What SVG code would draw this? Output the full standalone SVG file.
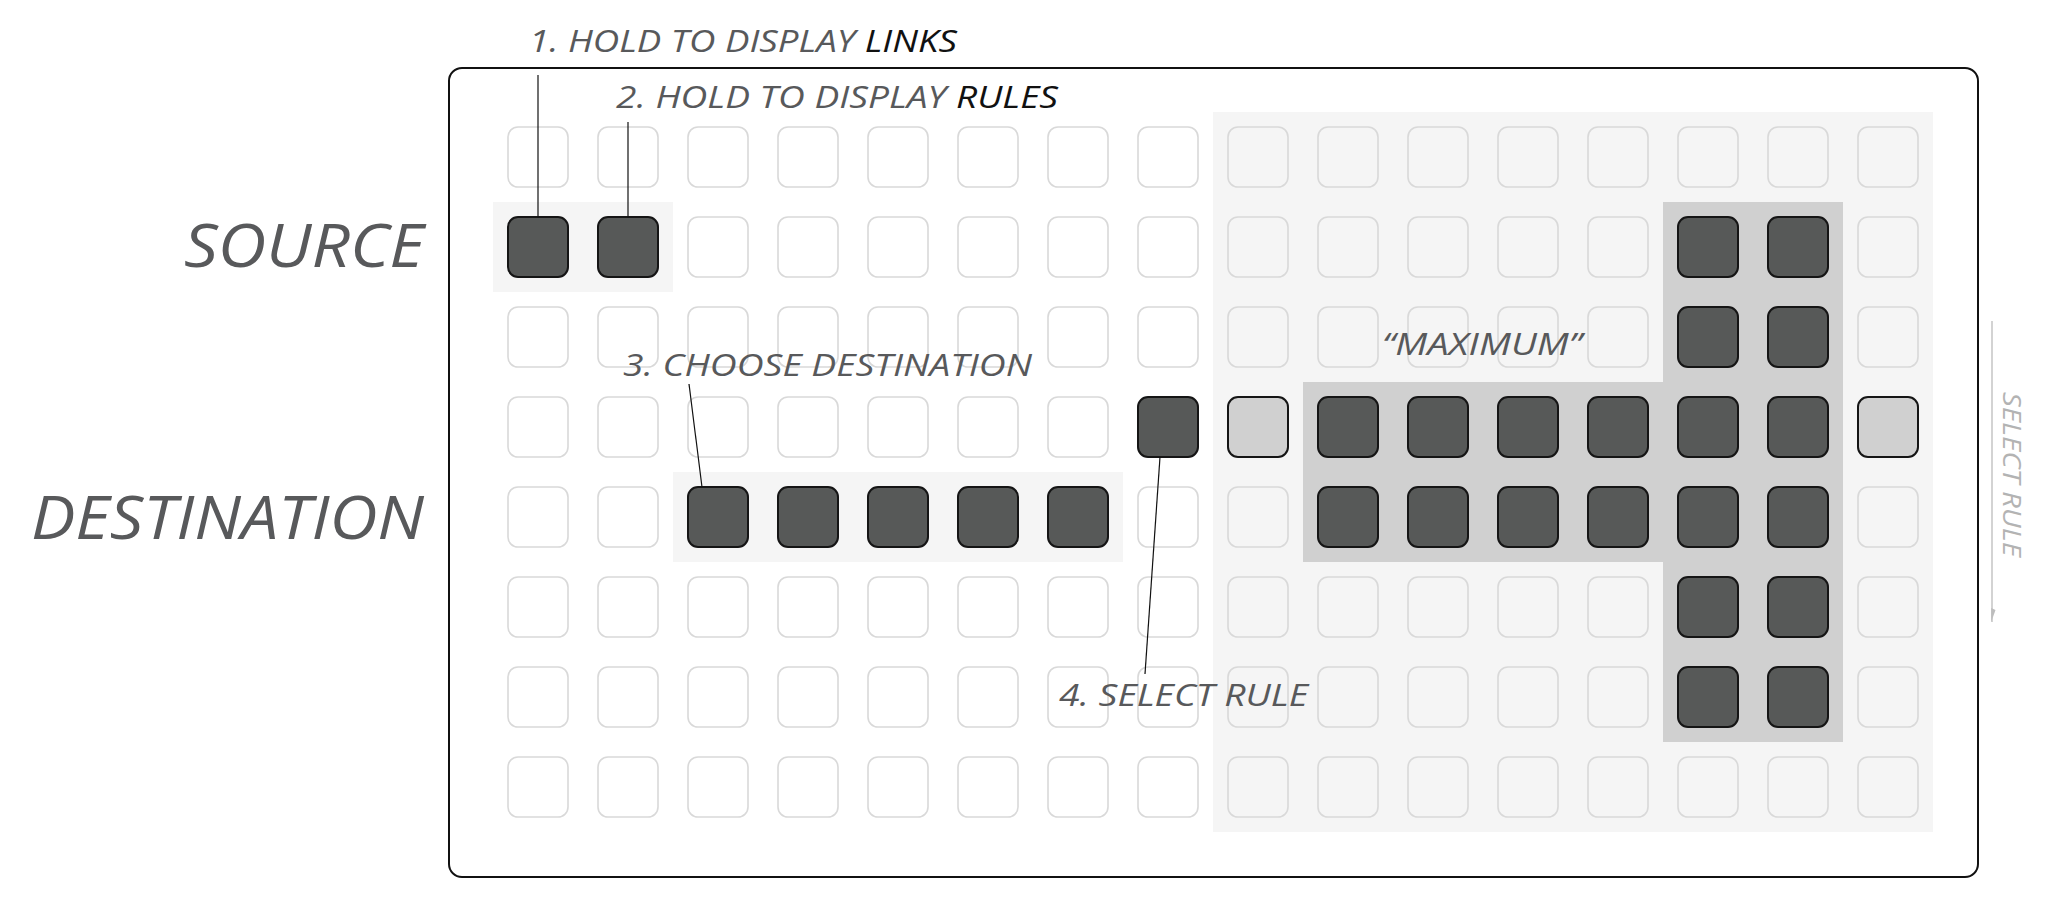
<svg xmlns="http://www.w3.org/2000/svg" xmlns:xlink="http://www.w3.org/1999/xlink" width="2051" height="900" viewBox="0 0 2051 900">
<style>
.e{fill:none;stroke:#d9d9d9;stroke-width:1.6}
.d{fill:#575958;stroke:#151515;stroke-width:2}
.l{fill:#d0d0d0;stroke:#151515;stroke-width:2}
.t{font-family:"Open Sans","Liberation Sans",sans-serif;font-style:italic;font-weight:400;fill:#58595b}
.k{fill:#111}
.c{stroke:#111;stroke-width:1.2;fill:none}
</style>
<defs>
<rect id="b" width="60" height="60" rx="10"/>
</defs>
<rect width="2051" height="900" fill="#fff"/>
<g id="board">
<rect x="449" y="68" width="1529" height="809" rx="13" fill="#fff" stroke="#111" stroke-width="2"/>
<rect id="area-rules" x="1213" y="112" width="720" height="720" fill="#f5f5f5"/>
<rect id="area-source" x="493" y="202" width="180" height="90" fill="#f5f5f5"/>
<rect id="area-destination" x="673" y="472" width="450" height="90" fill="#f5f5f5"/>
<polygon id="area-maximum" points="1663,202 1843,202 1843,742 1663,742 1663,562 1303,562 1303,382 1663,382" fill="#d0d0d0"/>
</g>
<g id="grid">
<g id="row0">
<use href="#b" class="e" x="508" y="127"/><use href="#b" class="e" x="598" y="127"/><use href="#b" class="e" x="688" y="127"/><use href="#b" class="e" x="778" y="127"/><use href="#b" class="e" x="868" y="127"/><use href="#b" class="e" x="958" y="127"/><use href="#b" class="e" x="1048" y="127"/><use href="#b" class="e" x="1138" y="127"/><use href="#b" class="e" x="1228" y="127"/><use href="#b" class="e" x="1318" y="127"/><use href="#b" class="e" x="1408" y="127"/><use href="#b" class="e" x="1498" y="127"/><use href="#b" class="e" x="1588" y="127"/><use href="#b" class="e" x="1678" y="127"/><use href="#b" class="e" x="1768" y="127"/><use href="#b" class="e" x="1858" y="127"/>
</g>
<g id="row1">
<use href="#b" class="d" x="508" y="217"/><use href="#b" class="d" x="598" y="217"/><use href="#b" class="e" x="688" y="217"/><use href="#b" class="e" x="778" y="217"/><use href="#b" class="e" x="868" y="217"/><use href="#b" class="e" x="958" y="217"/><use href="#b" class="e" x="1048" y="217"/><use href="#b" class="e" x="1138" y="217"/><use href="#b" class="e" x="1228" y="217"/><use href="#b" class="e" x="1318" y="217"/><use href="#b" class="e" x="1408" y="217"/><use href="#b" class="e" x="1498" y="217"/><use href="#b" class="e" x="1588" y="217"/><use href="#b" class="d" x="1678" y="217"/><use href="#b" class="d" x="1768" y="217"/><use href="#b" class="e" x="1858" y="217"/>
</g>
<g id="row2">
<use href="#b" class="e" x="508" y="307"/><use href="#b" class="e" x="598" y="307"/><use href="#b" class="e" x="688" y="307"/><use href="#b" class="e" x="778" y="307"/><use href="#b" class="e" x="868" y="307"/><use href="#b" class="e" x="958" y="307"/><use href="#b" class="e" x="1048" y="307"/><use href="#b" class="e" x="1138" y="307"/><use href="#b" class="e" x="1228" y="307"/><use href="#b" class="e" x="1318" y="307"/><use href="#b" class="e" x="1408" y="307"/><use href="#b" class="e" x="1498" y="307"/><use href="#b" class="e" x="1588" y="307"/><use href="#b" class="d" x="1678" y="307"/><use href="#b" class="d" x="1768" y="307"/><use href="#b" class="e" x="1858" y="307"/>
</g>
<g id="row3">
<use href="#b" class="e" x="508" y="397"/><use href="#b" class="e" x="598" y="397"/><use href="#b" class="e" x="688" y="397"/><use href="#b" class="e" x="778" y="397"/><use href="#b" class="e" x="868" y="397"/><use href="#b" class="e" x="958" y="397"/><use href="#b" class="e" x="1048" y="397"/><use href="#b" class="d" x="1138" y="397"/><use href="#b" class="l" x="1228" y="397"/><use href="#b" class="d" x="1318" y="397"/><use href="#b" class="d" x="1408" y="397"/><use href="#b" class="d" x="1498" y="397"/><use href="#b" class="d" x="1588" y="397"/><use href="#b" class="d" x="1678" y="397"/><use href="#b" class="d" x="1768" y="397"/><use href="#b" class="l" x="1858" y="397"/>
</g>
<g id="row4">
<use href="#b" class="e" x="508" y="487"/><use href="#b" class="e" x="598" y="487"/><use href="#b" class="d" x="688" y="487"/><use href="#b" class="d" x="778" y="487"/><use href="#b" class="d" x="868" y="487"/><use href="#b" class="d" x="958" y="487"/><use href="#b" class="d" x="1048" y="487"/><use href="#b" class="e" x="1138" y="487"/><use href="#b" class="e" x="1228" y="487"/><use href="#b" class="d" x="1318" y="487"/><use href="#b" class="d" x="1408" y="487"/><use href="#b" class="d" x="1498" y="487"/><use href="#b" class="d" x="1588" y="487"/><use href="#b" class="d" x="1678" y="487"/><use href="#b" class="d" x="1768" y="487"/><use href="#b" class="e" x="1858" y="487"/>
</g>
<g id="row5">
<use href="#b" class="e" x="508" y="577"/><use href="#b" class="e" x="598" y="577"/><use href="#b" class="e" x="688" y="577"/><use href="#b" class="e" x="778" y="577"/><use href="#b" class="e" x="868" y="577"/><use href="#b" class="e" x="958" y="577"/><use href="#b" class="e" x="1048" y="577"/><use href="#b" class="e" x="1138" y="577"/><use href="#b" class="e" x="1228" y="577"/><use href="#b" class="e" x="1318" y="577"/><use href="#b" class="e" x="1408" y="577"/><use href="#b" class="e" x="1498" y="577"/><use href="#b" class="e" x="1588" y="577"/><use href="#b" class="d" x="1678" y="577"/><use href="#b" class="d" x="1768" y="577"/><use href="#b" class="e" x="1858" y="577"/>
</g>
<g id="row6">
<use href="#b" class="e" x="508" y="667"/><use href="#b" class="e" x="598" y="667"/><use href="#b" class="e" x="688" y="667"/><use href="#b" class="e" x="778" y="667"/><use href="#b" class="e" x="868" y="667"/><use href="#b" class="e" x="958" y="667"/><use href="#b" class="e" x="1048" y="667"/><use href="#b" class="e" x="1138" y="667"/><use href="#b" class="e" x="1228" y="667"/><use href="#b" class="e" x="1318" y="667"/><use href="#b" class="e" x="1408" y="667"/><use href="#b" class="e" x="1498" y="667"/><use href="#b" class="e" x="1588" y="667"/><use href="#b" class="d" x="1678" y="667"/><use href="#b" class="d" x="1768" y="667"/><use href="#b" class="e" x="1858" y="667"/>
</g>
<g id="row7">
<use href="#b" class="e" x="508" y="757"/><use href="#b" class="e" x="598" y="757"/><use href="#b" class="e" x="688" y="757"/><use href="#b" class="e" x="778" y="757"/><use href="#b" class="e" x="868" y="757"/><use href="#b" class="e" x="958" y="757"/><use href="#b" class="e" x="1048" y="757"/><use href="#b" class="e" x="1138" y="757"/><use href="#b" class="e" x="1228" y="757"/><use href="#b" class="e" x="1318" y="757"/><use href="#b" class="e" x="1408" y="757"/><use href="#b" class="e" x="1498" y="757"/><use href="#b" class="e" x="1588" y="757"/><use href="#b" class="e" x="1678" y="757"/><use href="#b" class="e" x="1768" y="757"/><use href="#b" class="e" x="1858" y="757"/>
</g>
</g>
<g id="connectors">
<line class="c" x1="538" y1="75" x2="538" y2="217"/>
<line class="c" x1="628" y1="122" x2="628" y2="217"/>
<line class="c" x1="689" y1="384" x2="702" y2="487"/>
<line class="c" x1="1160" y1="457" x2="1145" y2="674"/>
</g>
<g id="label-source"><text class="t" x="424" y="267" font-size="61" text-anchor="end" textLength="240" lengthAdjust="spacingAndGlyphs">SOURCE</text></g>
<g id="label-destination"><text class="t" x="424" y="539" font-size="61" text-anchor="end" textLength="393" lengthAdjust="spacingAndGlyphs">DESTINATION</text></g>
<g id="step1"><text class="t" x="529" y="52" font-size="31" textLength="428" lengthAdjust="spacingAndGlyphs">1. HOLD TO DISPLAY <tspan class="k">LINKS</tspan></text></g>
<g id="step2"><text class="t" x="616" y="108" font-size="31" textLength="442" lengthAdjust="spacingAndGlyphs">2. HOLD TO DISPLAY <tspan class="k">RULES</tspan></text></g>
<g id="step3"><text class="t" x="623" y="376" font-size="31" textLength="409" lengthAdjust="spacingAndGlyphs">3. CHOOSE DESTINATION</text></g>
<g id="step4"><text class="t" x="1059" y="706" font-size="31" textLength="249" lengthAdjust="spacingAndGlyphs">4. SELECT RULE</text></g>
<g id="label-maximum"><text class="t" x="1382" y="355" font-size="31" textLength="200" lengthAdjust="spacingAndGlyphs">“MAXIMUM”</text></g>
<g id="select-rule-axis">
<line x1="1992" y1="321" x2="1992" y2="622" stroke="#c4c4c4" stroke-width="1.5"/>
<polygon points="1991.2,622 1991.2,608 1995.5,610" fill="#bdbdbd"/>
<text class="t" x="392" y="-2003" font-size="26" transform="rotate(90)" textLength="165" lengthAdjust="spacingAndGlyphs" style="fill:#b3b3b3">SELECT RULE</text>
</g>
</svg>
